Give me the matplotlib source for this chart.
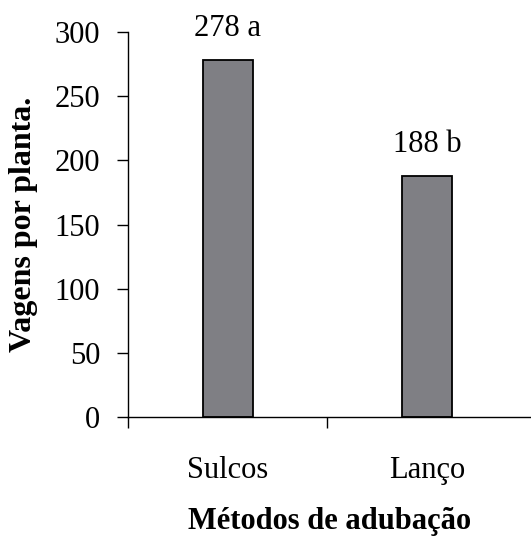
import numpy as np
import matplotlib
matplotlib.use("Agg")
from matplotlib import pyplot as plt

# data
metodos = ["Sulcos", "Lanço"]
vagens = [278, 188]
letras = ["a", "b"]

plt.rcParams['font.family'] = ['Liberation Serif', 'DejaVu Serif']

fig = plt.figure(figsize=(5.31, 5.41), dpi=100)
ax = fig.add_axes([0.241, 0.229, 0.759, 0.712])

x = np.arange(len(metodos))
bars = ax.bar(x, vagens, width=0.25, color='#7f7f84', edgecolor='black', linewidth=1.3)

for b, v, l in zip(bars, vagens, letras):
    ax.annotate(f"{v} {l}", (b.get_x() + b.get_width() / 2, v),
                xytext=(0, 12), textcoords='offset points',
                ha='center', va='bottom', fontsize=22)

ax.set_xlim(-0.5, 1.52)
ax.set_ylim(0, 300)
ax.set_yticks(np.arange(0, 301, 50))

# category labels at centres, tick marks on the boundaries
ax.set_xticks(x)
ax.set_xticklabels(metodos)
ax.set_xticks([-0.5, 0.5], minor=True)
ax.tick_params(axis='x', which='major', length=0, pad=28, labelsize=22)
ax.tick_params(axis='x', which='minor', length=8, width=1, direction='out')
ax.tick_params(axis='y', length=8, width=1, direction='out', pad=12, labelsize=22)

for s in ['top', 'right']:
    ax.spines[s].set_visible(False)
ax.spines['left'].set_linewidth(1)
ax.spines['bottom'].set_linewidth(1)

ax.set_ylabel("Vagens por planta.", fontsize=23, fontweight='bold', labelpad=12)
ax.set_xlabel("Métodos de adubação", fontsize=22, fontweight='bold', labelpad=16)

fig.savefig("out.png", dpi=100)
